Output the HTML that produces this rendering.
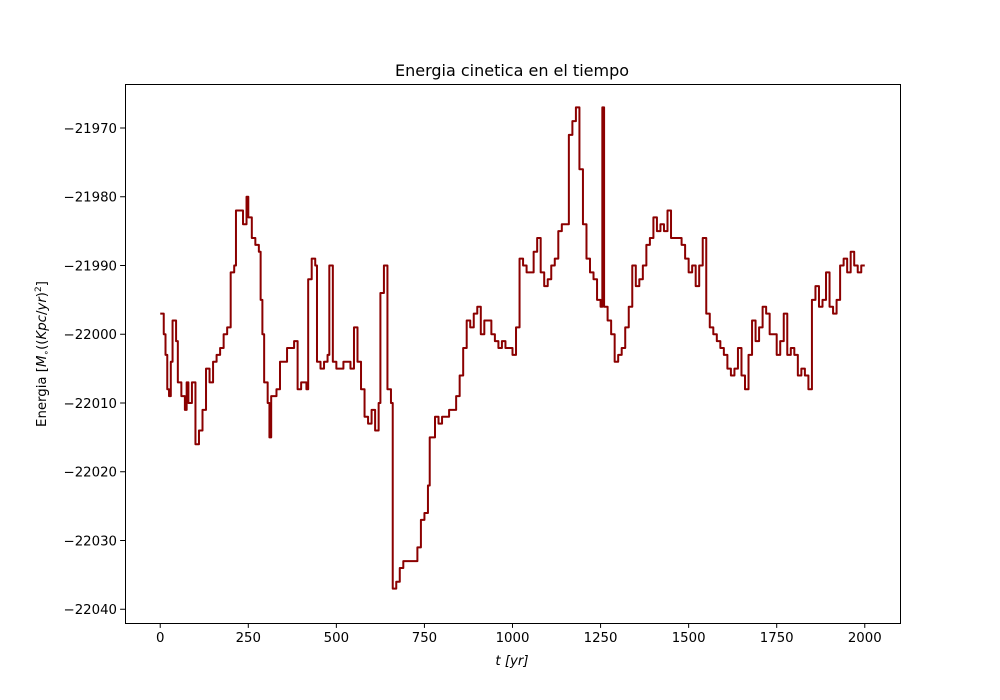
<!DOCTYPE html>
<html><head><meta charset="utf-8">
<style>
html,body{margin:0;padding:0;background:#fff;}
svg{display:block;font-family:"DejaVu Sans","Liberation Sans",sans-serif;}
</style></head>
<body>
<svg id="chart" width="1000" height="700" viewBox="0 0 1000 700" xmlns="http://www.w3.org/2000/svg">
<rect width="1000" height="700" fill="#fff"/>
<text x="512" y="76" text-anchor="middle" font-size="16">Energia cinetica en el tiempo</text>
<g id="xticks"></g>
<g id="yticks"></g>
<path id="line" fill="none" stroke="#8b0000" stroke-width="2" stroke-linejoin="round"/>
<rect x="125.5" y="84.5" width="775" height="539" fill="none" stroke="#000" stroke-width="1"/>
<text x="512" y="665" text-anchor="middle" font-size="13.3" font-style="italic">t [yr]</text>
<text transform="translate(46,354) rotate(-90)" text-anchor="middle" font-size="13.3">Energia [<tspan font-style="italic">M</tspan><tspan font-size="9" dy="3">∘</tspan><tspan dy="-3">((</tspan><tspan font-style="italic">Kpc</tspan>/<tspan font-style="italic">yr</tspan>)</tspan><tspan font-size="9" dy="-5">2</tspan><tspan dy="5">]</tspan></text>
</svg>
<script>
const times=[0,10,15,20,25,30,35,45,50,60,70,75,80,90,100,110,120,130,140,150,160,170,180,190,200,210,215,225,235,245,250,260,270,280,285,290,295,305,310,315,330,340,350,360,370,380,390,400,415,420,430,440,445,455,465,475,480,490,500,520,540,550,560,570,580,590,600,610,620,625,635,645,655,660,670,680,690,700,720,730,740,750,760,765,780,790,800,820,830,840,850,860,870,880,890,900,910,920,930,940,950,960,970,980,1000,1010,1020,1030,1040,1050,1060,1070,1080,1090,1100,1110,1120,1130,1140,1150,1160,1170,1180,1190,1200,1210,1220,1230,1240,1250,1255,1260,1270,1280,1290,1300,1310,1320,1330,1340,1350,1360,1370,1380,1390,1400,1410,1420,1430,1440,1450,1460,1470,1480,1490,1500,1510,1520,1530,1540,1550,1560,1570,1580,1590,1600,1610,1620,1630,1640,1650,1660,1670,1680,1690,1700,1710,1720,1730,1740,1750,1760,1770,1780,1790,1800,1810,1820,1830,1840,1850,1860,1870,1880,1890,1900,1910,1920,1930,1940,1950,1960,1970,1980,1990,2000];
const energy=[-21997,-22000,-22003,-22008,-22009,-22004,-21998,-22001,-22007,-22009,-22011,-22007,-22010,-22007,-22016,-22014,-22011,-22005,-22007,-22004,-22003,-22002,-22000,-21999,-21991,-21990,-21982,-21982,-21984,-21980,-21983,-21986,-21987,-21988,-21995,-22000,-22007,-22010,-22015,-22009,-22008,-22004,-22004,-22002,-22002,-22001,-22008,-22007,-22008,-21992,-21989,-21990,-22004,-22005,-22004,-22003,-21990,-22004,-22005,-22004,-22005,-21999,-22004,-22008,-22012,-22013,-22011,-22014,-22010,-21994,-21990,-22008,-22010,-22037,-22036,-22034,-22033,-22033,-22033,-22031,-22027,-22026,-22022,-22015,-22012,-22013,-22012,-22011,-22011,-22009,-22006,-22002,-21998,-21999,-21997,-21996,-22000,-21998,-21998,-22000,-22001,-22002,-22001,-22002,-22003,-21999,-21989,-21990,-21991,-21991,-21988,-21986,-21991,-21993,-21992,-21990,-21989,-21985,-21984,-21984,-21971,-21969,-21967,-21976,-21984,-21989,-21991,-21992,-21995,-21996,-21967,-21996,-21998,-22000,-22004,-22003,-22002,-21999,-21996,-21990,-21993,-21992,-21990,-21987,-21986,-21983,-21985,-21984,-21985,-21982,-21986,-21986,-21986,-21987,-21989,-21991,-21990,-21993,-21990,-21986,-21997,-21999,-22000,-22001,-22002,-22003,-22005,-22006,-22005,-22002,-22006,-22008,-22003,-21998,-22001,-21999,-21996,-21997,-22000,-22000,-22003,-22001,-21997,-22003,-22002,-22003,-22006,-22005,-22006,-22008,-21995,-21993,-21996,-21995,-21991,-21996,-21997,-21995,-21990,-21989,-21991,-21988,-21990,-21991,-21990,-21990];
const xTicks=[0,250,500,750,1000,1250,1500,1750,2000];
const yTicks=[-21970,-21980,-21990,-22000,-22010,-22020,-22030,-22040];

const NS="http://www.w3.org/2000/svg";
const X0=125,X1=900,Y0=84,Y1=623;
const xMin=-100,xMax=2100,yMin=-22042.0,yMax=-21963.6;
const sx=v=>X0+(v-xMin)/(xMax-xMin)*(X1-X0);
const sy=v=>Y1-(v-yMin)/(yMax-yMin)*(Y1-Y0);
const fmt=v=>String(v).replace('-','\u2212');

const xg=document.getElementById('xticks');
xTicks.forEach(t=>{
  const l=document.createElementNS(NS,'line');
  
  
  l.setAttribute('x1',sx(t));l.setAttribute('x2',sx(t));
  l.setAttribute('y1',Y1);l.setAttribute('y2',Y1+4.9);
  l.setAttribute('stroke','#000');
  xg.appendChild(l);
  const tx=document.createElementNS(NS,'text');
  
  
  tx.setAttribute('x',sx(t));tx.setAttribute('y',Y1+19);
  tx.setAttribute('text-anchor','middle');tx.setAttribute('font-size','13.3');
  tx.textContent=fmt(t);
  xg.appendChild(tx);
});
const yg=document.getElementById('yticks');
yTicks.forEach(t=>{
  const l=document.createElementNS(NS,'line');
  
  
  l.setAttribute('x1',X0-4.9);l.setAttribute('x2',X0);
  l.setAttribute('y1',sy(t));l.setAttribute('y2',sy(t));
  l.setAttribute('stroke','#000');
  yg.appendChild(l);
  const tx=document.createElementNS(NS,'text');
  
  
  tx.setAttribute('x',X0-8);tx.setAttribute('y',sy(t)+4.8);
  tx.setAttribute('text-anchor','end');tx.setAttribute('font-size','13.3');
  tx.textContent=fmt(t);
  yg.appendChild(tx);
});
let d='';
times.forEach((t,i)=>{
  if(i===0){d+='M'+sx(t).toFixed(2)+' '+sy(energy[i]).toFixed(2);}
  else{d+='H'+sx(t).toFixed(2)+'V'+sy(energy[i]).toFixed(2);}
});
document.getElementById('line').setAttribute('d',d);
</script>
</body></html>
